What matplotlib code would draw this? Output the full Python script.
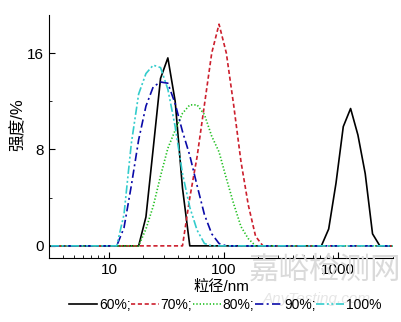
import matplotlib.pyplot as plt
from matplotlib.ticker import FixedLocator, NullFormatter

plt.rcParams['font.family'] = ['Liberation Sans', 'Noto Sans CJK SC', 'DejaVu Sans']

# particle size (nm) and intensity (%) for each sample
x60 = [3.122, 18.17, 21.04, 24.36, 28.21, 32.67, 37.84, 43.82, 50.75,
       712.4, 825.0, 955.4, 1106, 1281, 1484, 1718, 1990, 2305, 3091]
y60 = [0, 0, 2.4, 8.1, 13.9, 15.6, 12.0, 4.8, 0,
       0, 1.4, 5.2, 9.9, 11.4, 9.2, 6.0, 1.0, 0, 0]

x70 = [3.122, 43.82, 50.75, 58.77, 68.06, 78.82, 91.28, 105.7, 122.4,
       141.8, 164.2, 190.1, 220.2, 3091]
y70 = [0, 0, 4.0, 7.4, 11.7, 16.0, 18.4, 16.0, 11.7, 7.0, 3.4, 0.8, 0, 0]

x80 = [3.122, 18.17, 21.04, 24.36, 28.21, 32.67, 37.84, 43.82, 50.75,
       58.77, 68.06, 78.82, 91.28, 105.7, 122.4, 141.8, 164.2, 190.1, 3091]
y80 = [0, 0, 1.4, 3.3, 5.8, 8.1, 9.6, 11.0, 11.7,
       11.7, 10.9, 9.1, 7.8, 5.6, 3.5, 1.6, 0.6, 0, 0]

x90 = [3.122, 11.70, 13.54, 15.69, 18.17, 21.04, 24.36, 28.21, 32.67,
       37.84, 43.82, 50.75, 58.77, 68.06, 78.82, 91.28, 105.7, 3091]
y90 = [0, 0, 1.5, 5.0, 8.8, 11.6, 13.2, 13.6, 13.5,
       11.8, 9.5, 7.5, 5.0, 2.6, 1.0, 0.2, 0, 0]

x100 = [3.122, 11.70, 13.54, 15.69, 18.17, 21.04, 24.36, 28.21, 32.67,
        37.84, 43.82, 50.75, 58.77, 68.06, 78.82, 3091]
y100 = [0, 0, 2.6, 8.5, 12.6, 14.3, 15.0, 14.8, 13.0,
        9.9, 6.0, 3.2, 1.3, 0.2, 0, 0]

labels = ['60%;', '70%;', '80%;', '90%;', '100%']

fig = plt.figure(figsize=(4.01, 3.22), dpi=100)
ax = fig.add_axes([0.122, 0.199, 0.858, 0.754])

lw = 1.2
ax.plot(x60, y60, color='black', lw=lw, label=labels[0])
ax.plot(x70, y70, color='#cc1f2d', lw=lw, dashes=(2.5, 1.6), label=labels[1])
ax.plot(x80, y80, color='#22c022', lw=lw, dashes=(0.8, 1.2), label=labels[2])
ax.plot(x90, y90, color='#0a0aa8', lw=lw, dashes=(5, 2, 1.2, 2), label=labels[3])
ax.plot(x100, y100, color='#33cccc', lw=lw, dashes=(5, 1.5, 1.2, 1.5, 1.2, 1.5), label=labels[4])

ax.set_xscale('log')
ax.set_xlim(3, 3000)
ax.set_ylim(-1, 19.15)
ax.set_xticks([10, 100, 1000])
ax.set_xticklabels(['10', '100', '1000'])
minors = [m * d for d in [1, 10, 100, 1000] for m in range(2, 10) if 3 <= m * d <= 3000]
ax.xaxis.set_minor_locator(FixedLocator(minors))
ax.xaxis.set_minor_formatter(NullFormatter())
ax.set_yticks([0, 8, 16])
ax.yaxis.set_minor_locator(FixedLocator([4, 12]))

for s in ['top', 'right']:
    ax.spines[s].set_visible(False)
ax.tick_params(which='both', direction='in', labelsize=11)
ax.tick_params(which='major', length=4)
ax.tick_params(which='minor', length=2.5)

ax.set_xlabel('粒径/nm', fontsize=11, labelpad=2)
ax.set_ylabel('强度/%', fontsize=12)
ax.yaxis.set_label_coords(-0.068, 0.55)

fig.legend(loc='lower center', bbox_to_anchor=(0.562, 0.0), ncol=5, frameon=False,
           fontsize=10, handlelength=2.0, handletextpad=0.12, columnspacing=0.05,
           borderaxespad=0.3)

# faint site watermark
fig.text(0.81, 0.16, '嘉峪检测网', fontsize=22, color='#dadada', ha='center',
         va='center', zorder=0, family=['Noto Sans CJK SC'])
fig.text(0.79, 0.07, 'AnyTesting.com', fontsize=11, color='#e6e6e6', ha='center',
         va='center', style='italic', zorder=0)

fig.savefig('out.png', dpi=100)
